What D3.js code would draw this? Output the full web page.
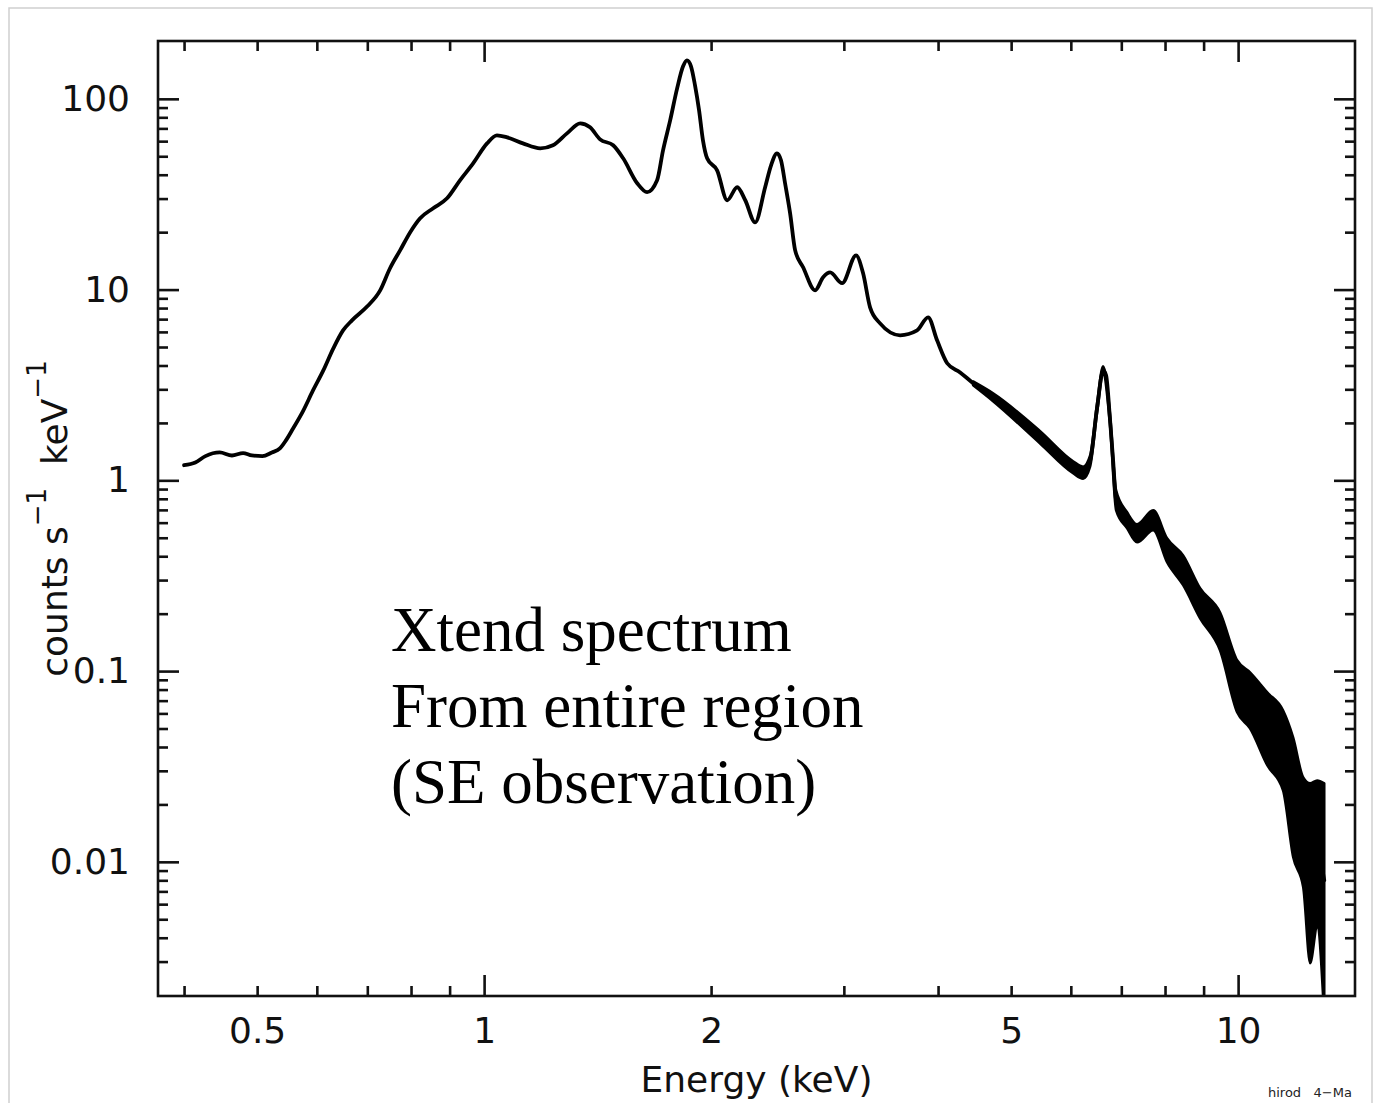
<!DOCTYPE html>
<html>
<head>
<meta charset="utf-8">
<script src="https://cdn.jsdelivr.net/npm/d3@7"></script>
<style>
  html, body { margin: 0; padding: 0; background: #ffffff; }
  svg { display: block; }
</style>
</head>
<body>
<svg id="chart" width="1373" height="1103"></svg>
<script>
// ---- Data (energy in keV, counts s^-1 keV^-1) ----
const energy = [0.400,0.414,0.427,0.446,0.463,0.479,0.492,0.508,0.523,0.536,0.546,0.558,0.575,0.593,0.612,0.631,0.650,0.668,0.700,0.728,
  0.750,0.774,0.798,0.822,0.856,0.893,0.929,0.967,1.009,1.040,1.073,1.126,1.187,1.234,1.288,1.341,1.382,1.425,1.483,1.529,
  1.596,1.645,1.696,1.727,1.765,1.803,1.836,1.858,1.881,1.904,1.928,1.951,1.976,2.037,2.101,2.166,2.220,2.288,2.359,2.402,
  2.446,2.476,2.507,2.546,2.585,2.649,2.748,2.816,2.877,2.984,3.114,3.181,3.250,3.351,3.562,3.752,3.880,3.988,4.113,4.279,
  4.452,4.732,4.938,5.139,5.463,5.754,6.041,6.229,6.364,6.502,6.622,6.682,6.764,6.827,6.890,7.125,7.345,7.526,7.715,8.049,
  8.455,8.904,9.465,9.970,10.37,10.93,11.47,11.83,12.20,12.46,12.73,13.01];
const counts = [1.20,1.24,1.34,1.40,1.35,1.39,1.35,1.34,1.40,1.47,1.62,1.87,2.30,2.96,3.77,4.92,6.11,6.90,8.17,9.91,
  12.9,16.1,20.0,23.6,26.7,30.1,37.4,45.9,58.4,64.4,62.8,58.4,55.0,57.1,65.9,74.4,70.9,61.3,57.1,48.8,
  36.1,32.4,37.4,53.7,77.1,113.5,148,159,148,118,87.0,60.6,48.8,42.2,29.4,34.4,29.4,22.5,34.4,44.8,
  51.8,47.6,36.1,25.1,16.1,13.1,9.91,11.6,12.3,10.8,15.1,12.2,8.07,6.65,5.76,6.11,7.15,5.42,4.11,3.68,
  3.23,2.72,2.41,1.99,1.68,1.44,1.17,1.10,1.27,2.41,3.77,3.55,2.06,1.27,0.786,0.617,0.528,0.567,0.617,0.430,
  0.337,0.227,0.164,0.0832,0.0703,0.0501,0.0384,0.0218,0.0143,0.00870,0.0111,0.00800];

// error envelope (lower / upper) in the noisy high-energy part
const bandEnergy = [4.452,4.732,5.463,6.041,6.229,6.364,6.502,6.622,6.764,6.890,7.125,7.345,7.715,8.049,8.455,8.904,9.465,9.970,10.37,10.93,11.47,11.83,12.20,12.46,12.73,13.01];
const bandHigh = [3.30,2.86,1.81,1.26,1.18,1.35,2.56,3.96,2.22,0.886,0.680,0.588,0.696,0.497,0.404,0.272,0.203,0.114,0.0985,0.0774,0.0623,0.0449,0.0277,0.0258,0.0267,0.0258];
const bandLow  = [3.15,2.60,1.56,1.09,1.02,1.18,2.27,3.59,1.92,0.696,0.560,0.473,0.547,0.372,0.282,0.189,0.128,0.0608,0.0501,0.0321,0.0237,0.0106,0.00735,0.00294,0.00454,0.0015];

// ticks and labels
const xMajorTicks = [1, 10];
const xMinorTicks = [0.4, 0.5, 0.6, 0.7, 0.8, 0.9, 2, 3, 4, 5, 6, 7, 8, 9];
const xTickLabels = [0.5, 1, 2, 5, 10];
const yMajorTicks = [0.01, 0.1, 1, 10, 100];
const yMinorTicks = [0.003,0.004,0.005,0.006,0.007,0.008,0.009,
  0.02,0.03,0.04,0.05,0.06,0.07,0.08,0.09,
  0.2,0.3,0.4,0.5,0.6,0.7,0.8,0.9,
  2,3,4,5,6,7,8,9,
  20,30,40,50,60,70,80,90];
const yTickLabels = ["0.01", "0.1", "1", "10", "100"];
const annotationLines = ["Xtend spectrum", "From entire region", "(SE observation)"];

// ---- Layout ----
const svg = d3.select("#chart");
const plot = { left: 158, top: 41, right: 1355, bottom: 996 };
const axisFont = "'DejaVu Sans', sans-serif";
const ink = "#111";

svg.append("rect").attr("x", 9).attr("y", 8).attr("width", 1363).attr("height", 1120)
  .attr("fill", "#fff").attr("stroke", "#cfcfcf").attr("stroke-width", 1.5);

const x = d3.scaleLog().domain([0.3694, 14.29]).range([plot.left, plot.right]);
const y = d3.scaleLog().domain([0.00198, 201]).range([plot.bottom, plot.top]);

// clip
svg.append("defs").append("clipPath").attr("id", "plotClip")
  .append("rect").attr("x", plot.left).attr("y", plot.top)
  .attr("width", plot.right - plot.left).attr("height", plot.bottom - plot.top);

const dataG = svg.append("g").attr("clip-path", "url(#plotClip)");

const bandData = bandEnergy.map((e, i) => ({ e, lo: bandLow[i], hi: bandHigh[i] }));
dataG.append("path")
  .datum(bandData)
  .attr("fill", "#000")
  .attr("stroke", "#000")
  .attr("stroke-width", 2.5)
  .attr("stroke-linejoin", "round")
  .attr("d", d3.area().curve(d3.curveMonotoneX).x(d => x(d.e)).y0(d => y(d.lo)).y1(d => y(d.hi)));

const lineData = energy.map((e, i) => ({ e, v: counts[i] }));
dataG.append("path")
  .datum(lineData)
  .attr("fill", "none")
  .attr("stroke", "#000")
  .attr("stroke-width", 3.8)
  .attr("stroke-linejoin", "round")
  .attr("stroke-linecap", "round")
  .attr("d", d3.line().curve(d3.curveMonotoneX).x(d => x(d.e)).y(d => y(d.v)));

// ---- Axes ticks (inward) ----
function styleTicks(g) {
  g.select(".domain").remove();
  g.selectAll(".tick line").attr("stroke", ink).attr("stroke-width", 2.6);
  g.selectAll(".tick text").remove();
}
const MAJ = 21, MIN = 10;
svg.append("g").attr("transform", `translate(0,${plot.bottom})`)
  .call(d3.axisBottom(x).tickValues(xMajorTicks).tickSize(-MAJ)).call(styleTicks);
svg.append("g").attr("transform", `translate(0,${plot.bottom})`)
  .call(d3.axisBottom(x).tickValues(xMinorTicks).tickSize(-MIN)).call(styleTicks);
svg.append("g").attr("transform", `translate(0,${plot.top})`)
  .call(d3.axisTop(x).tickValues(xMajorTicks).tickSize(-MAJ)).call(styleTicks);
svg.append("g").attr("transform", `translate(0,${plot.top})`)
  .call(d3.axisTop(x).tickValues(xMinorTicks).tickSize(-MIN)).call(styleTicks);
svg.append("g").attr("transform", `translate(${plot.left},0)`)
  .call(d3.axisLeft(y).tickValues(yMajorTicks).tickSize(-MAJ)).call(styleTicks);
svg.append("g").attr("transform", `translate(${plot.left},0)`)
  .call(d3.axisLeft(y).tickValues(yMinorTicks).tickSize(-MIN)).call(styleTicks);
svg.append("g").attr("transform", `translate(${plot.right},0)`)
  .call(d3.axisRight(y).tickValues(yMajorTicks).tickSize(-MAJ)).call(styleTicks);
svg.append("g").attr("transform", `translate(${plot.right},0)`)
  .call(d3.axisRight(y).tickValues(yMinorTicks).tickSize(-MIN)).call(styleTicks);

// tick labels
const xl = svg.append("g").attr("transform", `translate(0,${plot.bottom})`)
  .call(d3.axisBottom(x).tickValues(xTickLabels).tickSize(0).tickPadding(21).tickFormat(d => String(d)));
xl.select(".domain").remove();
xl.selectAll("text").attr("font-family", axisFont).attr("font-size", 36).attr("fill", ink);

const yl = svg.append("g").attr("transform", `translate(${plot.left},0)`)
  .call(d3.axisLeft(y).tickValues(yMajorTicks).tickSize(0).tickPadding(28)
    .tickFormat((d, i) => yTickLabels[i]));
yl.select(".domain").remove();
yl.selectAll("text").attr("font-family", axisFont).attr("font-size", 36).attr("fill", ink);

// frame
svg.append("rect").attr("x", plot.left).attr("y", plot.top)
  .attr("width", plot.right - plot.left).attr("height", plot.bottom - plot.top)
  .attr("fill", "none").attr("stroke", ink).attr("stroke-width", 2.6);

// axis titles
svg.append("text").attr("x", (plot.left + plot.right) / 2).attr("y", 1092)
  .attr("text-anchor", "middle").attr("font-family", axisFont).attr("font-size", 36).attr("fill", ink)
  .text("Energy (keV)");

const yt = svg.append("text")
  .attr("transform", `translate(67,${(plot.top + plot.bottom) / 2}) rotate(-90)`)
  .attr("text-anchor", "middle").attr("font-family", axisFont).attr("font-size", 36).attr("fill", ink)
  .style("white-space", "pre");
yt.append("tspan").text("counts s");
yt.append("tspan").attr("dy", -21).attr("font-size", 26).text("\u22121");
yt.append("tspan").attr("dy", 21).text("  keV");
yt.append("tspan").attr("dy", -21).attr("font-size", 26).text("\u22121");

// annotation
svg.append("g").selectAll("text").data(annotationLines).join("text")
  .attr("x", 391).attr("y", (d, i) => 651 + i * 76)
  .attr("font-family", "'Liberation Serif', 'Times New Roman', serif")
  .attr("font-size", 63).attr("fill", "#000")
  .text(d => d);

// small footer stamp
svg.append("text").attr("x", 1268).attr("y", 1097)
  .attr("font-family", axisFont).attr("font-size", 13).attr("fill", "#222")
  .style("white-space", "pre")
  .text("hirod   4\u2212Ma");
</script>
</body>
</html>
